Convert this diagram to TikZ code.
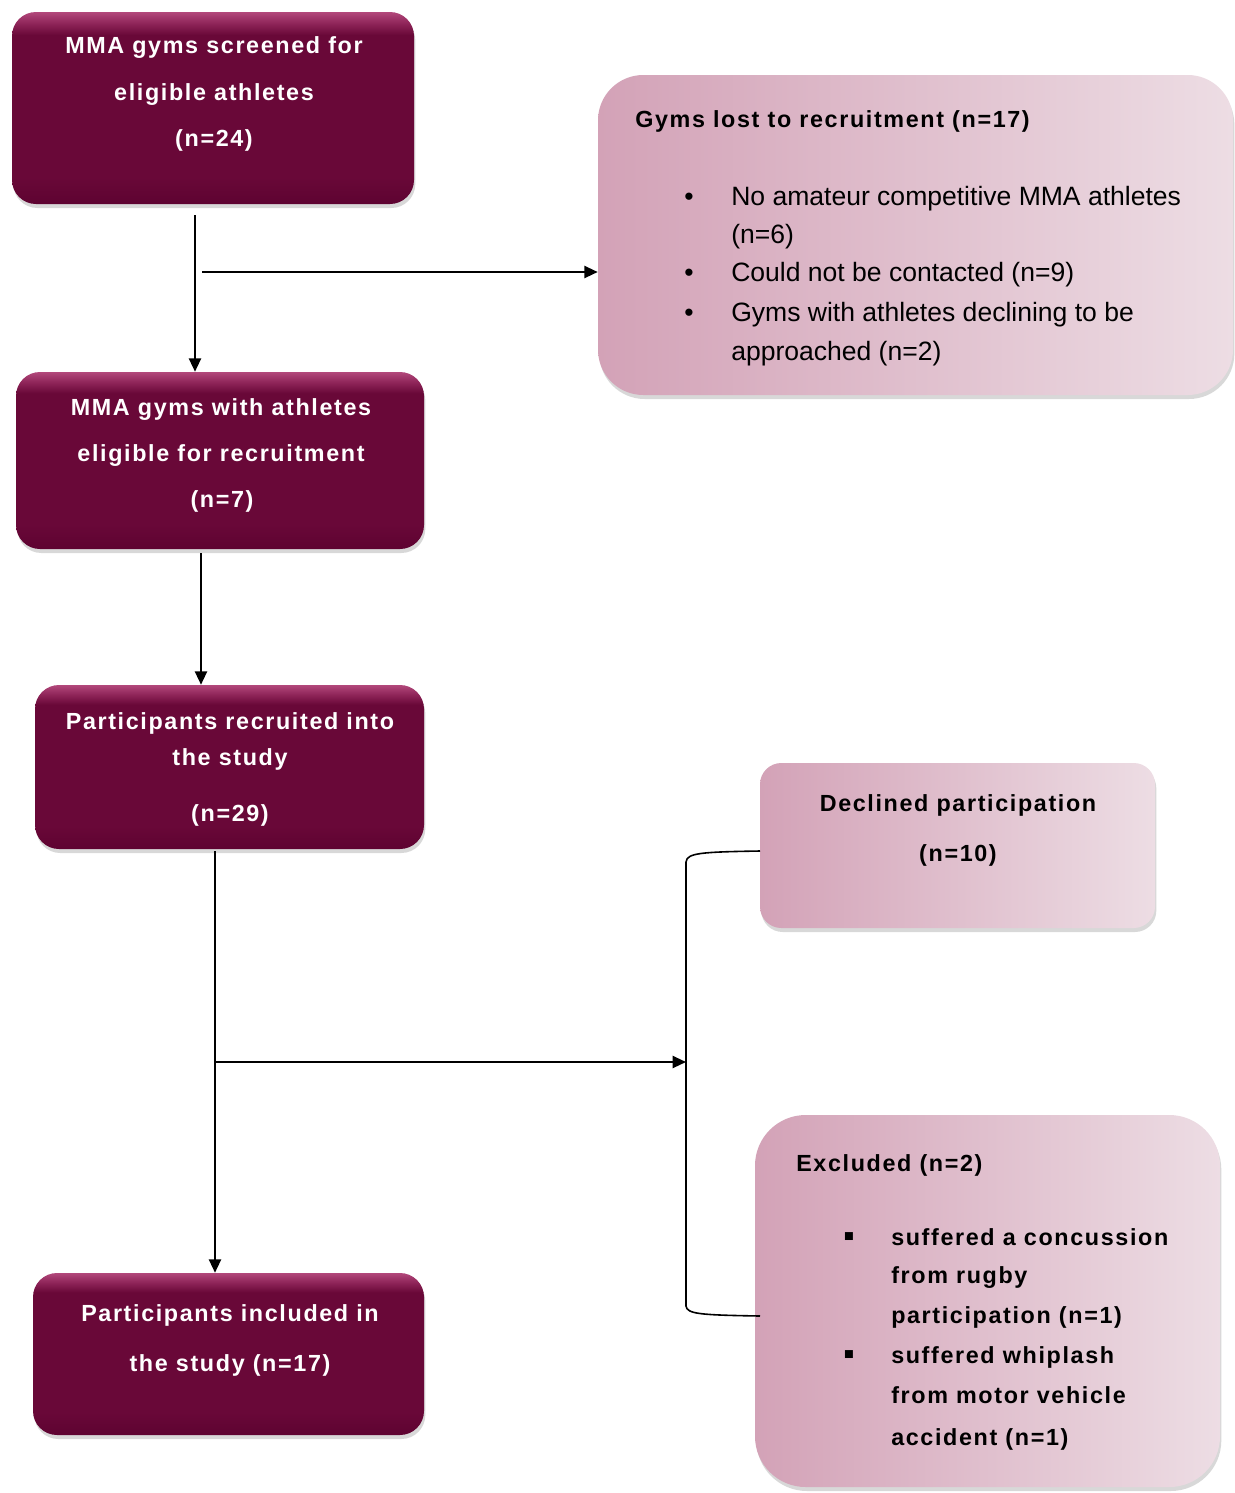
\documentclass[tikz,border=0pt]{standalone}
\usepackage{fontspec}
\setmainfont{Liberation Sans}
\newfontfamily\spfont{Liberation Sans}[LetterSpace=7]
\usetikzlibrary{arrows.meta,shadows}
\definecolor{mmain}{HTML}{690838}
\definecolor{mdark}{HTML}{5E0331}
\definecolor{mhl}{HTML}{B2487B}
\definecolor{mhlb}{HTML}{8E2458}
\definecolor{pinkL}{HTML}{D3A2B7}
\definecolor{pinkR}{HTML}{EDDDE4}
\pgfdeclareverticalshading{darkboxsh}{100bp}{color(0bp)=(mdark); color(25bp)=(mdark); color(32bp)=(mmain); color(69bp)=(mmain); color(72bp)=(mhlb); color(75bp)=(mhl); color(100bp)=(mhl)}
\pgfdeclarehorizontalshading{pinkboxsh}{100bp}{color(0bp)=(pinkL); color(25bp)=(pinkL); color(75bp)=(pinkR); color(100bp)=(pinkR)}
\newcommand{\px}{0.75pt}
\tikzset{
  dbox/.style={rectangle, rounded corners=18pt, shading=darkboxsh, draw=none, inner sep=0pt,
    drop shadow={shadow xshift=1pt, shadow yshift=-3pt, opacity=0.3}},
  pbox/.style={rectangle, shading=pinkboxsh, draw=none, inner sep=0pt,
    drop shadow={shadow xshift=1pt, shadow yshift=-3pt, opacity=0.3}},
  wt/.style={text=white, font=\spfont\bfseries\fontsize{17.5}{21}\selectfont, anchor=base, inner sep=0pt},
  bt/.style={text=black, font=\spfont\bfseries\fontsize{17.5}{21}\selectfont, anchor=base, inner sep=0pt},
  sq/.style={text=black, font=\bfseries\fontsize{24}{28}\selectfont, anchor=base, inner sep=0pt},
  rt/.style={text=black, font=\fontsize{19.9}{24}\selectfont, anchor=base west, inner sep=0pt},
  arr/.style={line width=1.6pt, -{Triangle[length=10pt,width=9pt]}},
  brk/.style={line width=1.2pt},
}
\begin{document}
\begin{tikzpicture}[x=0.75pt,y=-0.75pt]
\useasboundingbox[fill=white] (0,0) rectangle (1235,1493);
% dark boxes
\node[dbox, minimum width={402*\px}, minimum height={192*\px}] (b1) at (213,108) {};
\node[dbox, minimum width={408*\px}, minimum height={177*\px}] (b2) at (220,460.5) {};
\node[dbox, minimum width={389*\px}, minimum height={164*\px}] (b3) at (229.5,767) {};
\node[dbox, minimum width={391*\px}, minimum height={162*\px}] (b4) at (228.5,1354) {};
% pink boxes
\node[pbox, rounded corners=34pt, minimum width={635*\px}, minimum height={320*\px}] (gy) at (915.5,235) {};
\node[pbox, rounded corners=16pt, minimum width={395*\px}, minimum height={165*\px}] (dec) at (957.5,845.5) {};
\node[pbox, rounded corners=38pt, minimum width={465*\px}, minimum height={372*\px}] (exc) at (987.5,1301) {};
% dark box texts
\node[wt] (t1a) at (214,53) {MMA gyms screened for};
\node[wt] (t1b) at (214,100) {eligible athletes};
\node[wt] (t1c) at (214,146) {(n=24)};
\node[wt] (t2a) at (221,415) {MMA gyms with athletes};
\node[wt] (t2b) at (221,461) {eligible for recruitment};
\node[wt] (t2c) at (222,507) {(n=7)};
\node[wt] (t3a) at (230,729) {Participants recruited into};
\node[wt] (t3b) at (230,765) {the study};
\node[wt] (t3c) at (230,821) {(n=29)};
\node[wt] (t4a) at (230,1321) {Participants included in};
\node[wt] (t4b) at (230,1371) {the study (n=17)};
% gyms lost box texts
\node[bt, anchor=base west] (gt) at (635,127) {Gyms lost to recruitment (n=17)};
\node[rt, anchor=base] (gb1) at (689,205) {\textbullet};
\node[rt] (g1a) at (731,205) {No amateur competitive MMA athletes};
\node[rt] (g1b) at (731,243) {(n=6)};
\node[rt, anchor=base] (gb2) at (689,281) {\textbullet};
\node[rt] (g2) at (731,281) {Could not be contacted (n=9)};
\node[rt, anchor=base] (gb3) at (689,321) {\textbullet};
\node[rt] (g3a) at (731,321) {Gyms with athletes declining to be};
\node[rt] (g3b) at (731,360) {approached (n=2)};
% declined
\node[bt] (d1) at (958,811) {Declined participation};
\node[bt] (d2) at (958,861) {(n=10)};
% excluded
\node[bt, anchor=base west] (e0) at (796,1171) {Excluded (n=2)};
\node[sq] (eb1) at (849,1246) {\char"25AA};
\node[bt, anchor=base west] (e1) at (891,1245) {suffered a concussion};
\node[bt, anchor=base west] (e2) at (891,1283) {from rugby};
\node[bt, anchor=base west] (e3) at (891,1323) {participation (n=1)};
\node[sq] (eb2) at (849,1364) {\char"25AA};
\node[bt, anchor=base west] (e4) at (891,1363) {suffered whiplash};
\node[bt, anchor=base west] (e5) at (891,1403) {from motor vehicle};
\node[bt, anchor=base west] (e6) at (891,1445) {accident (n=1)};
% connectors
\coordinate (c1) at (195,215);
\draw[arr] (c1) -- (c1 |- b2.north);
\coordinate (c2) at (202,272);
\draw[arr] (c2) -- (c2 -| gy.west);
\coordinate (c3) at (201,553);
\draw[arr] (c3) -- (c3 |- b3.north);
\coordinate (c4) at (215,851);
\draw[arr] (c4) -- (c4 |- b4.north);
\coordinate (c5) at (215,1062);
\coordinate (br) at (686,1062);
\draw[arr] (c5) -- (br);
\coordinate (bt1) at (760,851);
\coordinate (bt2) at (760,1316);
\draw[brk] (bt1) .. controls (700,852) and (687,853) .. (686,862) -- (br) -- (686,1306) .. controls (687,1314) and (700,1315) .. (bt2);
\end{tikzpicture}
\end{document}
